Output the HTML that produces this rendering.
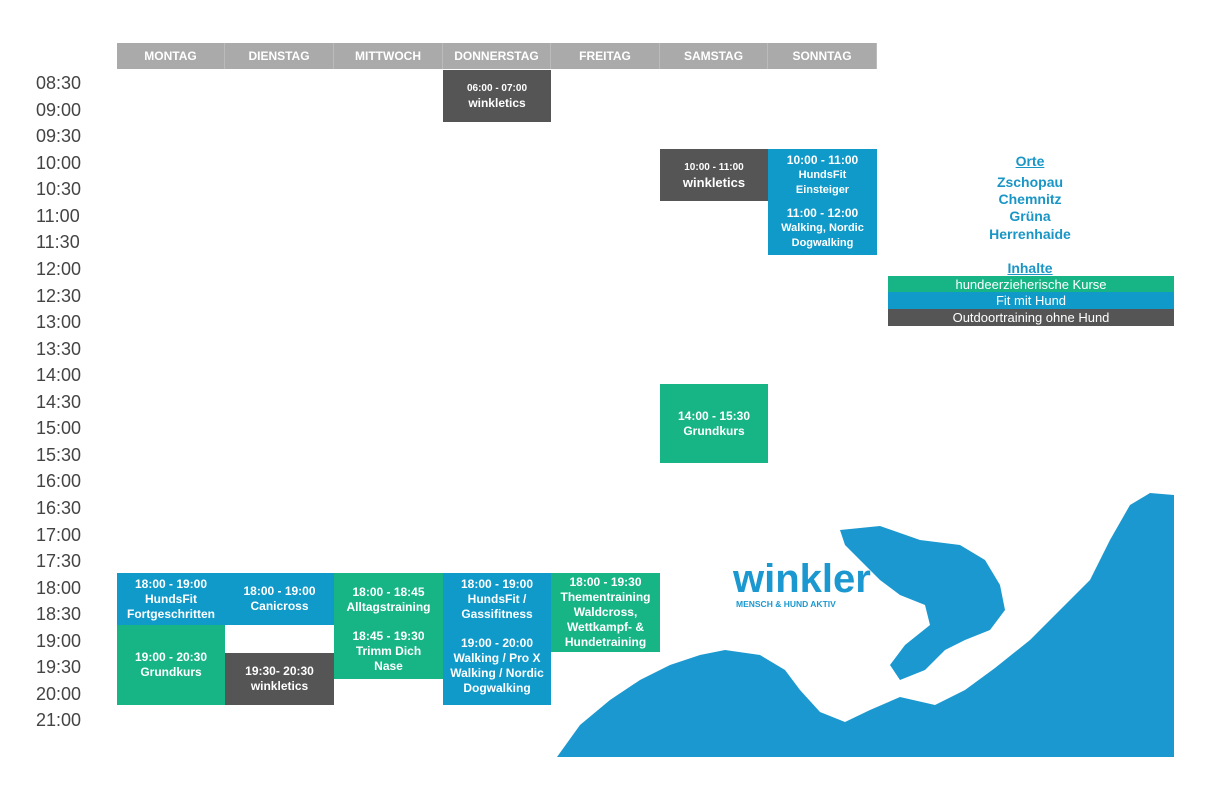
<!DOCTYPE html>
<html><head><meta charset="utf-8"><style>
body{margin:0;width:1209px;height:800px;background:#fff;position:relative;overflow:hidden;font-family:"Liberation Sans",sans-serif}
.h{position:absolute;top:43px;height:26px;background:#aaa;color:#fff;font-weight:bold;font-size:12px;line-height:26px;text-align:center;border-right:1px solid #bbb;box-sizing:border-box}
.t{position:absolute;left:36px;font-size:18px;color:#444;line-height:20px}
.b{position:absolute;color:#fff;font-weight:bold;font-size:12px;text-align:center;display:flex;flex-direction:column;justify-content:center;line-height:15px;box-sizing:border-box}
.bl{background:#0f9ac9}.gr{background:#17b585}.dk{background:#555}
.lg{position:absolute;left:888px;width:286px;color:#fff;font-size:13px;text-align:center;line-height:17px}
.o{position:absolute;left:960px;width:140px;text-align:center;color:#1a96c6;font-weight:bold;font-size:14px}
</style></head><body>
<div class="h" style="left:117px;width:108px">MONTAG</div>
<div class="h" style="left:225px;width:109px">DIENSTAG</div>
<div class="h" style="left:334px;width:109px">MITTWOCH</div>
<div class="h" style="left:443px;width:108px">DONNERSTAG</div>
<div class="h" style="left:551px;width:109px">FREITAG</div>
<div class="h" style="left:660px;width:108px">SAMSTAG</div>
<div class="h" style="left:768px;width:109px">SONNTAG</div>

<div class="t" style="top:73px">08:30</div><div class="t" style="top:100px">09:00</div><div class="t" style="top:126px">09:30</div><div class="t" style="top:153px">10:00</div><div class="t" style="top:179px">10:30</div><div class="t" style="top:206px">11:00</div><div class="t" style="top:232px">11:30</div><div class="t" style="top:259px">12:00</div><div class="t" style="top:286px">12:30</div><div class="t" style="top:312px">13:00</div><div class="t" style="top:339px">13:30</div><div class="t" style="top:365px">14:00</div><div class="t" style="top:392px">14:30</div><div class="t" style="top:418px">15:00</div><div class="t" style="top:445px">15:30</div><div class="t" style="top:471px">16:00</div><div class="t" style="top:498px">16:30</div><div class="t" style="top:525px">17:00</div><div class="t" style="top:551px">17:30</div><div class="t" style="top:578px">18:00</div><div class="t" style="top:604px">18:30</div><div class="t" style="top:631px">19:00</div><div class="t" style="top:657px">19:30</div><div class="t" style="top:684px">20:00</div><div class="t" style="top:710px">21:00</div>

<div class="b dk" style="left:443px;top:70px;width:108px;height:52px"><span style="font-size:10px">06:00 - 07:00</span><span>winkletics</span></div>
<div class="b dk" style="left:660px;top:149px;width:108px;height:52px"><span style="font-size:10px">10:00 - 11:00</span><span style="font-size:13px">winkletics</span></div>
<div class="b bl" style="left:768px;top:149px;width:109px;height:53px"><span>10:00 - 11:00</span><span style="font-size:11px">HundsFit</span><span style="font-size:11px">Einsteiger</span></div>
<div class="b bl" style="left:768px;top:202px;width:109px;height:53px"><span>11:00 - 12:00</span><span style="font-size:11px">Walking, Nordic</span><span style="font-size:11px">Dogwalking</span></div>
<div class="b gr" style="left:660px;top:384px;width:108px;height:79px"><span>14:00 - 15:30</span><span>Grundkurs</span></div>

<div class="b bl" style="left:117px;top:573px;width:108px;height:52px"><span>18:00 - 19:00</span><span>HundsFit</span><span>Fortgeschritten</span></div>
<div class="b gr" style="left:117px;top:625px;width:108px;height:80px"><span>19:00 - 20:30</span><span>Grundkurs</span></div>
<div class="b bl" style="left:225px;top:573px;width:109px;height:52px"><span>18:00 - 19:00</span><span>Canicross</span></div>
<div class="b dk" style="left:225px;top:653px;width:109px;height:52px"><span>19:30- 20:30</span><span>winkletics</span></div>
<div class="b gr" style="left:334px;top:573px;width:109px;height:53px"><span>18:00 - 18:45</span><span>Alltagstraining</span></div>
<div class="b gr" style="left:334px;top:626px;width:109px;height:53px;justify-content:flex-start;padding-top:3px"><span>18:45 - 19:30</span><span>Trimm Dich</span><span>Nase</span></div>
<div class="b bl" style="left:443px;top:573px;width:108px;height:53px"><span>18:00 - 19:00</span><span>HundsFit /</span><span>Gassifitness</span></div>
<div class="b bl" style="left:443px;top:626px;width:108px;height:79px"><span>19:00 - 20:00</span><span>Walking / Pro X</span><span>Walking / Nordic</span><span>Dogwalking</span></div>
<div class="b gr" style="left:551px;top:573px;width:109px;height:79px"><span>18:00 - 19:30</span><span>Thementraining</span><span>Waldcross,</span><span>Wettkampf- &amp;</span><span>Hundetraining</span></div>

<div class="o" style="top:153px;text-decoration:underline">Orte</div>
<div class="o" style="top:174px">Zschopau</div>
<div class="o" style="top:191px">Chemnitz</div>
<div class="o" style="top:208px">Grüna</div>
<div class="o" style="top:226px">Herrenhaide</div>
<div class="o" style="top:260px;text-decoration:underline">Inhalte</div>
<div class="lg gr" style="top:276px;height:16px">hundeerzieherische Kurse</div>
<div class="lg bl" style="top:292px;height:17px">Fit mit Hund</div>
<div class="lg dk" style="top:309px;height:17px;overflow:hidden">Outdoortraining ohne Hund</div>

<svg style="position:absolute;left:0;top:0" width="1209" height="800">
<polygon fill="#1b98cf" points="557,757 580,725 610,700 640,680 670,665 700,655 725,650 760,655 785,670 800,690 820,712 845,722 870,710 900,697 935,705 965,690 995,668 1030,640 1060,610 1090,580 1110,540 1130,505 1150,493 1174,495 1174,757"/>
<polygon fill="#1b98cf" points="840,530 880,526 920,540 960,545 985,560 1000,585 1005,610 990,630 965,640 945,650 925,670 900,680 890,665 905,645 930,625 925,605 900,595 880,580 860,560 845,545"/>
<text x="733" y="592" fill="#1b98cf" font-family="Liberation Sans" font-weight="bold" font-size="40">winkler</text>
<text x="736" y="607" fill="#1b98cf" font-family="Liberation Sans" font-weight="bold" font-size="8.5">MENSCH &amp; HUND AKTIV</text>
</svg>
</body></html>
